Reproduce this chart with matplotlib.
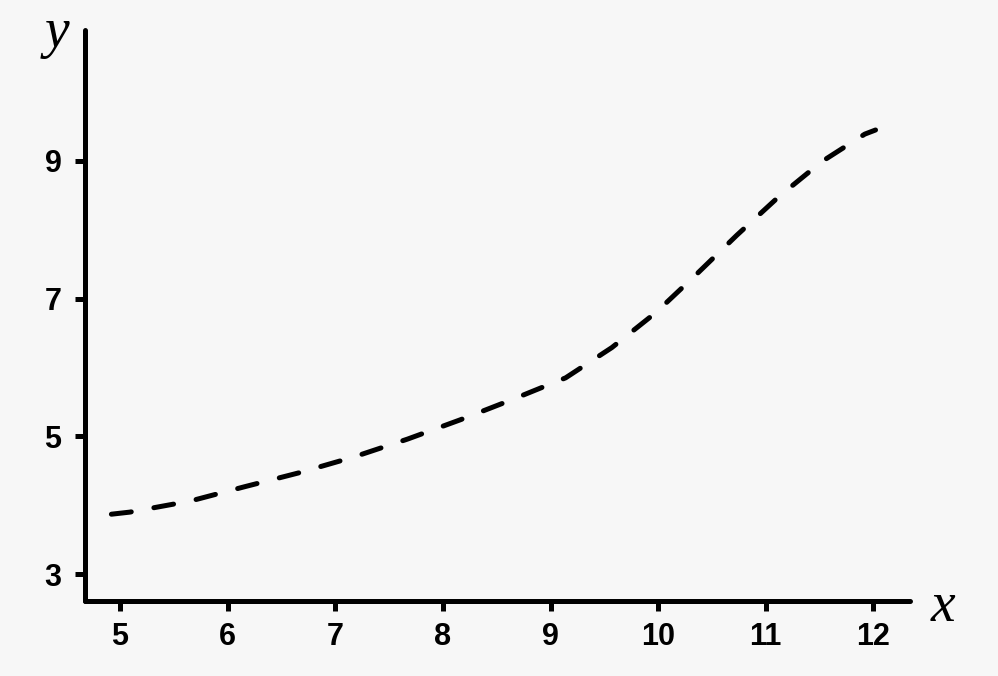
import matplotlib.pyplot as plt

# 曲线数据
x_vals = [4.92, 5.09, 5.65, 6.16, 6.66, 7.17, 7.67, 8.16, 8.62, 9.14,
          9.57, 9.98, 10.36, 10.73, 11.12, 11.52, 11.92, 12.02]
y_vals = [3.87, 3.90, 4.06, 4.27, 4.47, 4.70, 4.96, 5.24, 5.52, 5.85,
          6.29, 6.80, 7.36, 7.92, 8.48, 8.99, 9.39, 9.45]
x_ticks = [5, 6, 7, 8, 9, 10, 11, 12]
y_ticks = [3, 5, 7, 9]

bg = '#f7f7f7'
fig = plt.figure(figsize=(9.98, 6.76), dpi=100, facecolor=bg)
ax = fig.add_axes([0.0852, 0.111, 0.8266, 0.8444])
ax.set_facecolor(bg)

# 虚线
ax.plot(x_vals, y_vals, color='black', lw=3.6, linestyle=(0, (4.0, 4.6)),
        solid_capstyle='round', dash_capstyle='round')

ax.set_xlim(4.675, 12.34)
ax.set_ylim(2.61, 10.9)
ax.set_xticks(x_ticks)
ax.set_yticks(y_ticks)

for s in ['top', 'right']:
    ax.spines[s].set_visible(False)
for s in ['left', 'bottom']:
    ax.spines[s].set_linewidth(3.6)
    ax.spines[s].set_capstyle('round')

ax.tick_params(axis='both', direction='out', length=7, width=3.6, labelsize=22)
ax.tick_params(axis='x', pad=8)
ax.tick_params(axis='y', pad=10)
for lab in ax.get_xticklabels() + ax.get_yticklabels():
    lab.set_fontfamily('Liberation Sans')
    lab.set_fontweight('bold')

# 坐标轴标签
fig.text(943 / 998, 1 - 607 / 676, 'x', fontsize=40, fontstyle='italic',
         family='Liberation Serif', ha='center', va='center')
fig.text(57 / 998, 1 - 33 / 676, 'y', fontsize=40, fontstyle='italic',
         family='Liberation Serif', ha='center', va='center')

plt.savefig('out.png', dpi=100, facecolor=bg)
